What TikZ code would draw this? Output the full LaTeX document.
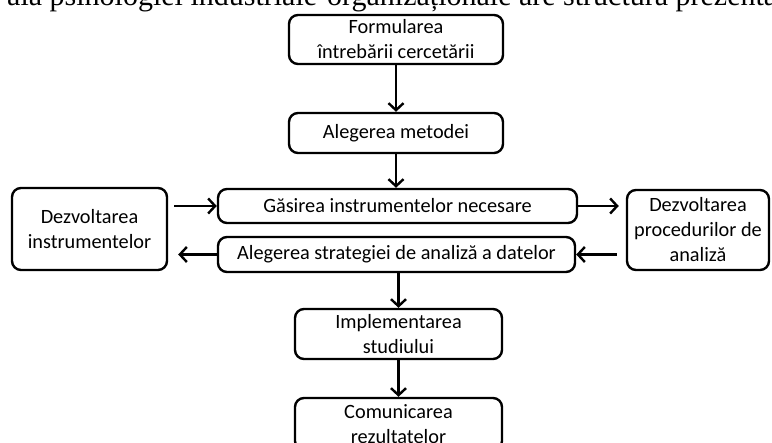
\documentclass[tikz,border=0pt]{standalone}
\usepackage{fontspec}
\setmainfont{Carlito}
\newfontfamily\serifface{Liberation Serif}
\usetikzlibrary{arrows.meta}
\begin{document}
\begin{tikzpicture}[x=1pt,y=-1pt,
  box/.style={draw, line width=2.4pt, rounded corners=9pt, align=center, inner sep=0pt,
    font=\fontsize{20.3}{25}\selectfont},
  arr/.style={line width=2.4pt, -{Straight Barb[length=7pt,width=15pt]}}]
\useasboundingbox (0,0) rectangle (772,443);
\clip (0,0) rectangle (772,443);
\node[anchor=base west, inner sep=0pt, font=\serifface\fontsize{30}{34}\selectfont] (top) at (7,5.5)
  {ală psihologiei industriale-organizaționale are structura prezentată};
\node[box, minimum width=214pt, minimum height=49pt] (B1) at (396,39.5) {Formularea\\întrebării cercetării};
\node[box, minimum width=214pt, minimum height=40pt] (B2) at (396,133) {Alegerea metodei};
\node[box, minimum width=359pt, minimum height=34pt] (G) at (397.5,206) {Găsirea instrumentelor necesare};
\node[box, minimum width=357pt, minimum height=35pt] (S) at (396.5,254.5) {Alegerea strategiei de analiză a datelor};
\node[box, minimum width=155pt, minimum height=82pt] (L) at (89.5,229) {Dezvoltarea\\instrumentelor};
\node[box, minimum width=142pt, minimum height=80pt] (R) at (698,230) {Dezvoltarea\\procedurilor de\\analiză};
\node[box, minimum width=207pt, minimum height=50pt] (I) at (398.5,334) {Implementarea\\studiului};
\node[box, minimum width=207pt, minimum height=52pt] (C) at (398.5,424) {Comunicarea\\rezultatelor};
\draw[arr] (B1.south) -- (B2.north);
\draw[arr] (B2.south) -- (B2.south |- G.north);
\draw[arr] (I.north |- S.south) -- (I.north);
\draw[arr] (I.south) -- (C.north);
\draw[arr, shorten <=6pt] (L.east |- G) -- (G.west);
\draw[arr, shorten >=10pt] (S.west) -- (L.east |- S);
\draw[arr, shorten >=7pt] (G.east) -- (R.west |- G);
\draw[arr, shorten <=9pt] (R.west |- S) -- (S.east);
\end{tikzpicture}
\end{document}
